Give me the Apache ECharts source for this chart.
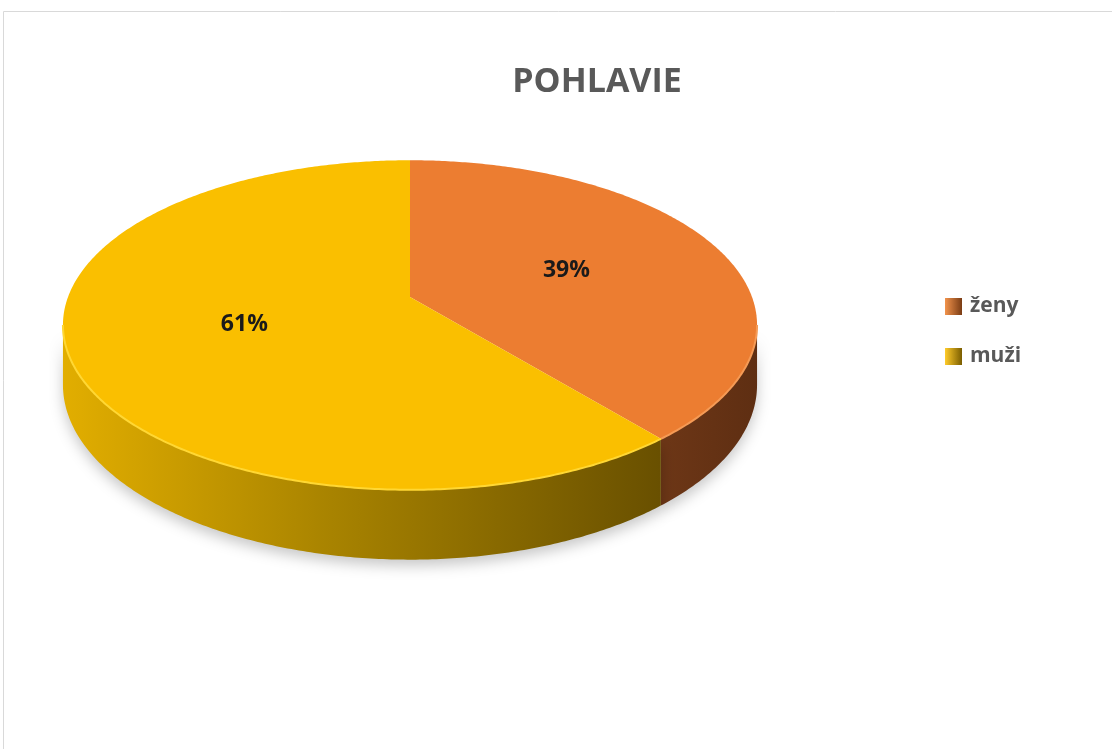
<!DOCTYPE html>
<html>
<head>
<meta charset="utf-8">
<script src="https://cdn.jsdelivr.net/npm/echarts@6/dist/echarts.min.js"></script>
<style>
  html, body { margin: 0; padding: 0; background: #fff; }
  #chart { width: 1112px; height: 749px; }
</style>
</head>
<body>
<div id="chart"></div>
<script>
// data
const categories = ['ženy', 'muži'];
const shares = [39, 61];
const topColors = ['#EC7D31', '#FABF00'];

const total = shares.reduce((s, v) => s + v, 0);
const starts = [];
shares.reduce((acc, v) => { starts.push(acc); return acc + v; }, 0);

// disc geometry with a little perspective (layout only)
const cx = 410, cy = 297;     // projected centre of the disc
const A = 342, B = 160;       // horizontal / vertical radii before perspective
const u = 0.17;               // perspective strength
const H = 58;                 // wall height

function pt(t, k, wall) {
  const w = 1 + k * u * Math.cos(t);
  return [cx + k * A * Math.sin(t) / w, cy - k * B * Math.cos(t) / w + (wall ? H / w : 0)];
}
function arc(a, b, wall) {
  const pts = [];
  const n = Math.max(2, Math.ceil(Math.abs(b - a) / 0.01));
  for (let k = 0; k <= n; k++) pts.push(pt(a + (b - a) * k / n, 1, wall));
  return pts;
}
// silhouette angles: the wall shows between them
const tS = Math.acos(-u), tE = Math.PI * 2 - tS;

const sideFills = [
  { type: 'linear', x: 620, y: 0, x2: 760, y2: 0, global: true,
    colorStops: [{ offset: 0, color: '#733A18' }, { offset: 1, color: '#5E2E12' }] },
  { type: 'linear', x: 62, y: 0, x2: 660, y2: 0, global: true,
    colorStops: [{ offset: 0, color: '#E2AE00' }, { offset: 0.45, color: '#A88300' },
                 { offset: 1, color: '#695000' }] }
];

function renderItem(params, api) {
  const i = params.dataIndex;
  const v = api.value(0);
  const a0 = api.value(1) / total * Math.PI * 2;
  const a1 = (api.value(1) + v) / total * Math.PI * 2;
  const children = [];

  // visible outer wall (front part)
  const s = Math.max(a0, tS), e = Math.min(a1, tE);
  if (s < e) {
    const wall = arc(s, e, false).concat(arc(e, s, true));
    children.push({
      type: 'polygon', z2: 1,
      shape: { points: wall },
      style: { fill: sideFills[i], shadowBlur: 14, shadowOffsetY: 6, shadowColor: 'rgba(0,0,0,0.22)' }
    });
  }

  // top face
  const face = [[cx, cy]].concat(arc(a0, a1, false));
  children.push({
    type: 'polygon', z2: 2,
    shape: { points: face },
    style: { fill: topColors[i] }
  });
  // rim highlight on the front edge
  if (s < e) {
    children.push({
      type: 'polyline', z2: 3,
      shape: { points: arc(s, e, false) },
      style: { stroke: i === 1 ? '#FFD733' : '#F59A55', lineWidth: 2, fill: null }
    });
  }

  // percentage label, halfway out along the middle of the slice
  const mid = (a0 + a1) / 2;
  const lp = pt(mid, 0.5, false);
  children.push({
    type: 'text', z2: 4,
    x: lp[0], y: lp[1],
    style: {
      text: Math.round(v / total * 100) + '%',
      fill: '#1a1a1a',
      font: 'bold 23px "Open Sans", sans-serif',
      align: 'center', verticalAlign: 'middle'
    }
  });

  return { type: 'group', children: children };
}

const legendFills = [
  { type: 'linear', x: 0, y: 0, x2: 1, y2: 0,
    colorStops: [{ offset: 0, color: '#F2934C' }, { offset: 1, color: '#7A3C14' }] },
  { type: 'linear', x: 0, y: 0, x2: 1, y2: 0,
    colorStops: [{ offset: 0, color: '#FFCB2A' }, { offset: 1, color: '#7A5D00' }] }
];

const chart = echarts.init(document.getElementById('chart'));
chart.setOption({
  animation: false,
  title: {
    text: 'POHLAVIE',
    left: 592, top: 60, textAlign: 'center',
    textStyle: { color: '#595959', fontSize: 34, fontWeight: 'bold', fontFamily: '"Open Sans", sans-serif' }
  },
  legend: {
    orient: 'vertical',
    left: 940, top: 291,
    itemWidth: 17, itemHeight: 17, itemGap: 29,
    icon: 'rect',
    selectedMode: false,
    data: categories,
    textStyle: { color: '#595959', fontSize: 21, fontWeight: 'bold', fontFamily: '"Open Sans", sans-serif', padding: [0, 0, 0, 3] }
  },
  graphic: [{
    type: 'rect', silent: true,
    shape: { x: 3.5, y: 11.5, width: 1200, height: 800 },
    style: { fill: null, stroke: '#D9D9D9', lineWidth: 1 }
  }],
  series: [
    {
      type: 'custom',
      coordinateSystem: 'none',
      renderItem: renderItem,
      data: shares.map((v, i) => ({ name: categories[i], value: [v, starts[i]] }))
    },
    {
      // carries the legend entries only
      type: 'pie',
      radius: [0, 0],
      center: [-100, -100],
      silent: true,
      label: { show: false },
      labelLine: { show: false },
      data: shares.map((v, i) => ({ name: categories[i], value: v, itemStyle: { color: legendFills[i] } }))
    }
  ]
});
</script>
</body>
</html>
